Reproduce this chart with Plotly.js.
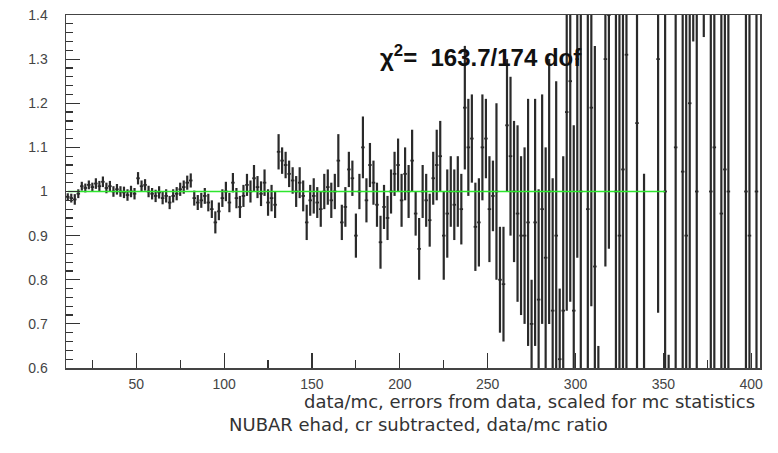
<!DOCTYPE html>
<html>
<head>
<meta charset="utf-8">
<script src="https://cdn.plot.ly/plotly-3.0.1.min.js"></script>
<style>
html,body{margin:0;padding:0;background:#fff;}
#chart{width:778px;height:453px;}
</style>
</head>
<body>
<div id="chart"></div>
<script>
// bin centres (ehad)
const binX = [
 11,13,15,17,19,21,23,25,27,29,
 31,33,35,37,39,41,43,45,47,49,
 51,53,55,57,59,61,63,65,67,69,
 71,73,75,77,79,81,83,85,87,89,
 91,93,95,97,99,101,103,105,107,109,
 111,113,115,117,119,121,123,125,127,129,
 131,133,135,137,139,141,143,145,147,149,
 151,153,155,157,159,161,163,165,167,169,
 171,173,175,177,179,181,183,185,187,189,
 191,193,195,197,199,201,203,205,207,209,
 211,213,215,217,219,221,223,225,227,229,
 231,233,235,237,239,241,243,245,247,249,
 251,253,255,257,259,261,263,265,267,269,
 271,273,275,277,279,281,283,285,287,289,
 291,293,295,297,299,301,303,305,307,309,
 311,313,315,317,319,321,323,325,327,329,
 331,333,335,337,339,341,343,345,347,349,
 351,353,355,357,359,361,363,365,367,369,
 371,373,375,377,379,381,383,385,387,389,
 391,393,395,397,399,401,403
];
// data/mc ratio
const ratio = [
 0.988,0.985,0.982,0.995,1.012,1.008,1.015,1.01,1.018,1.012,
 1.022,1.008,1.012,1.0,1.005,1.0,0.998,0.992,1.0,0.995,
 1.03,1.012,1.015,1.0,0.995,0.99,0.998,0.985,0.99,0.975,
 0.99,0.995,1.005,1.01,1.02,1.025,0.985,0.975,0.98,0.99,
 0.975,0.96,0.93,0.955,0.985,1.0,0.975,1.02,0.985,0.965,
 0.99,1.015,1.0,1.03,1.01,0.995,1.02,0.975,0.985,0.97,
 1.09,1.07,1.06,1.04,1.025,1.0,1.02,0.99,0.93,0.98,
 0.99,0.975,0.96,1.0,1.01,0.98,1.0,1.07,0.93,0.965,
 1.05,1.03,0.9,1.0,1.1,0.98,1.06,1.02,0.97,0.885,
 0.965,0.94,1.0,1.04,1.06,0.98,1.04,1.0,1.07,0.95,
 0.87,1.0,0.98,0.935,1.03,1.06,1.08,0.9,0.95,1.0,
 0.97,1.0,0.96,1.19,1.1,1.12,0.92,0.93,1.1,1.12,
 0.96,0.99,1.0,0.8,0.79,1.15,1.08,1.0,0.95,0.9,
 0.9,0.93,0.7,0.93,0.755,0.96,0.85,1.0,0.73,0.9,
 0.62,0.73,1.18,1.25,0.73,1.3,1.0,null,0.96,1.19,
 0.83,0.45,null,1.3,1.4,null,1.0,0.9,1.05,1.31,
 null,null,1.155,null,0.5,null,null,null,1.3,null,
 1.0,0.45,null,1.1,null,1.045,0.9,1.2,1.6,1.0,
 null,1.6,null,1.0,1.1,null,0.95,1.05,1.0,null,
 null,null,null,1.0,0.9,null,1.0
];
// statistical errors (data, scaled for mc statistics)
const ratioErr = [
 0.008,0.01,0.012,0.01,0.01,0.01,0.01,0.01,0.012,0.012,
 0.012,0.012,0.012,0.012,0.012,0.012,0.013,0.013,0.013,0.013,
 0.014,0.013,0.013,0.013,0.013,0.014,0.014,0.014,0.015,0.015,
 0.015,0.015,0.015,0.015,0.016,0.016,0.017,0.017,0.017,0.018,
 0.02,0.02,0.025,0.02,0.02,0.022,0.022,0.022,0.023,0.025,
 0.025,0.025,0.025,0.03,0.025,0.028,0.03,0.03,0.03,0.03,
 0.04,0.03,0.03,0.03,0.03,0.035,0.035,0.035,0.04,0.035,
 0.04,0.035,0.04,0.04,0.04,0.04,0.04,0.06,0.04,0.045,
 0.04,0.04,0.05,0.04,0.07,0.05,0.05,0.05,0.05,0.06,
 0.05,0.05,0.05,0.05,0.06,0.06,0.06,0.06,0.07,0.05,
 0.07,0.06,0.06,0.06,0.06,0.08,0.08,0.1,0.1,0.08,
 0.08,0.08,0.08,0.14,0.11,0.1,0.1,0.1,0.12,0.09,
 0.12,0.08,0.2,0.12,0.13,0.15,0.18,0.16,0.2,0.18,
 0.2,0.28,0.1,0.28,0.25,0.26,0.25,0.3,0.3,0.35,
 0.16,0.35,0.45,0.5,0.42,0.45,0.7,0,0.5,0.45,
 0.5,0.2,0,0.47,0.53,0,0.8,0.8,0.9,0.9,
 0,0,0.9,0,0.54,0,0,0,0.575,0,
 1.0,0.18,0,1.0,0,0.9,1.0,1.0,0.26,1.0,
 0,0.25,0,1.0,1.0,0,1.0,1.0,1.0,0,
 0,0,0,1.0,1.0,0,1.0
];
const halfBinWidth = 1;
// fitted constant
const fitX = [11, 351];
const fitY = [1, 1];

const chi2Text = 'χ<sup>2</sup>=  163.7/174 dof';
const xTitle = 'data/mc, errors from data, scaled for mc statistics';
const subTitle = 'NUBAR ehad, cr subtracted, data/mc ratio';

const tickFont = {family: 'Liberation Sans, Arial, sans-serif', size: 14, color: '#444'};
const barColor = '#2a2a2a';

const traces = [
  {
    type: 'scatter', mode: 'markers', x: binX, y: ratio,
    marker: {size: 1, color: barColor},
    error_y: {type: 'data', array: ratioErr, visible: true, color: barColor, thickness: 2.2, width: 0},
    error_x: {type: 'constant', value: halfBinWidth, visible: true, color: barColor, thickness: 1.8, width: 0},
    hoverinfo: 'x+y', showlegend: false
  },
  {
    type: 'scatter', mode: 'lines', x: fitX, y: fitY,
    line: {color: '#2ee62e', width: 1.6}, showlegend: false, hoverinfo: 'skip'
  }
];

const layout = {
  width: 778, height: 453,
  margin: {l: 66, r: 18, t: 15, b: 85},
  paper_bgcolor: '#fff', plot_bgcolor: '#fff',
  showlegend: false,
  xaxis: {
    range: [10, 405], tick0: 0, dtick: 50,
    ticks: 'inside', ticklen: 15, tickwidth: 1.2, tickcolor: '#333',
    minor: {dtick: 25, ticks: 'inside', ticklen: 8, tickwidth: 1.2, tickcolor: '#333', showgrid: false},
    showline: true, mirror: true, linecolor: '#444', linewidth: 1.5,
    showgrid: false, zeroline: false, tickfont: tickFont, ticklabelstandoff: 3
  },
  yaxis: {
    range: [0.6, 1.4], tick0: 0, dtick: 0.1,
    ticks: 'inside', ticklen: 14, tickwidth: 1.2, tickcolor: '#333',
    minor: {dtick: 0.02, ticks: 'inside', ticklen: 7, tickwidth: 1.2, tickcolor: '#333', showgrid: false},
    showline: true, mirror: true, linecolor: '#444', linewidth: 1.5,
    showgrid: false, zeroline: false, tickfont: tickFont, ticklabelstandoff: 14
  },
  annotations: [
    {text: chi2Text, xref: 'paper', yref: 'paper', x: 0.45, y: 0.884, xanchor: 'left', yanchor: 'middle',
     showarrow: false, font: {family: 'Liberation Sans, Arial, sans-serif', size: 24, color: '#111', weight: 'bold'}},
    {text: xTitle, xref: 'paper', yref: 'paper', x: (302 - 66) / 694, y: -0.096, xanchor: 'left', yanchor: 'middle',
     showarrow: false, font: {family: 'DejaVu Sans, sans-serif', size: 18, color: '#333'}},
    {text: subTitle, xref: 'paper', yref: 'paper', x: (227 - 66) / 694, y: -0.161, xanchor: 'left', yanchor: 'middle',
     showarrow: false, font: {family: 'DejaVu Sans, sans-serif', size: 18, color: '#333'}}
  ]
};

Plotly.newPlot('chart', traces, layout, {staticPlot: true, displayModeBar: false});
</script>
</body>
</html>
